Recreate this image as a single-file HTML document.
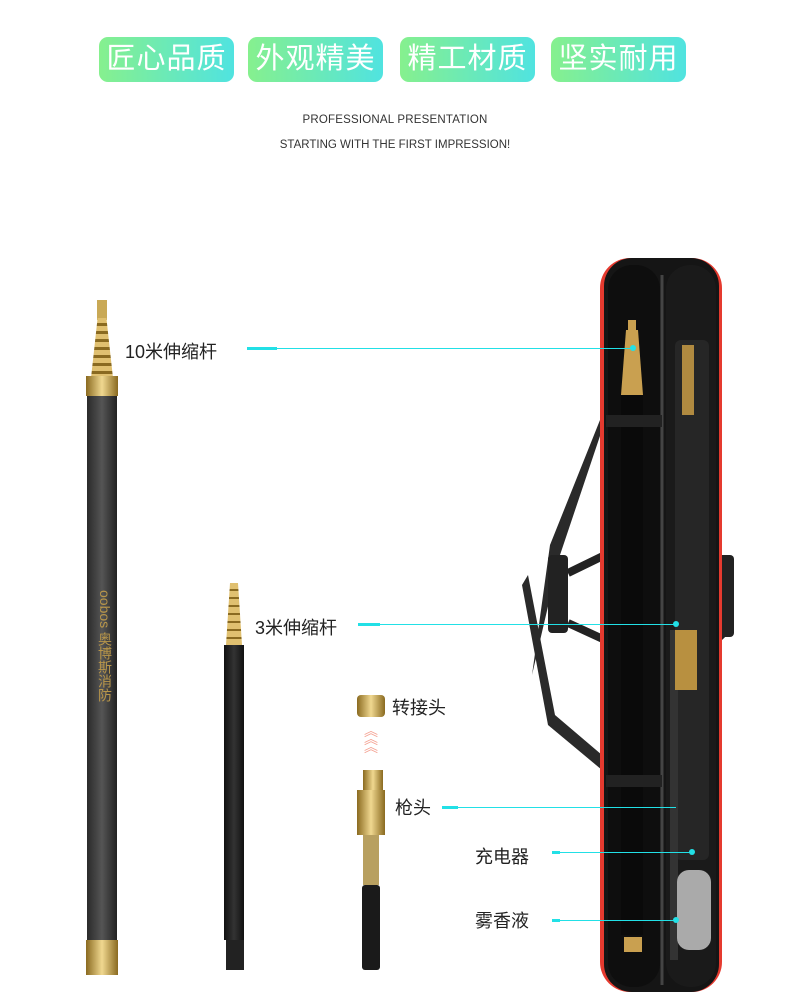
<!DOCTYPE html>
<html><head><meta charset="utf-8"><style>
body{margin:0;width:790px;height:1007px;background:#fff;position:relative;overflow:hidden;font-family:"Liberation Sans","Noto Sans CJK SC",sans-serif}
.b{position:absolute;top:37px;height:45px;width:135px;border-radius:9px;background:linear-gradient(90deg,#86f08e,#50e3e0);color:#fff;font-size:29px;line-height:45px;text-align:center;letter-spacing:1px}
.t{position:absolute;left:0;width:790px;text-align:center;font-size:11.5px;color:#333}
.a{position:absolute;}
.lb{position:absolute;font-size:18px;color:#222}
.ln{position:absolute;height:1px;background:#22e0e6}
.tk{position:absolute;height:3px;background:#22e0e6}
.dot{position:absolute;width:6px;height:6px;border-radius:3px;background:#22e0e6}
</style></head><body>
<div class="b" style="left:99px">匠心品质</div>
<div class="b" style="left:248px">外观精美</div>
<div class="b" style="left:400px">精工材质</div>
<div class="b" style="left:551px">坚实耐用</div>
<div class="t" style="top:114px;letter-spacing:0.2px">PROFESSIONAL PRESENTATION</div>
<div class="t" style="top:139px">STARTING WITH THE FIRST IMPRESSION!</div>

<!-- 10m pole -->
<div class="a" style="left:97px;top:300px;width:10px;height:20px;background:#c9a956"></div>
<div class="a" style="left:91px;top:318px;width:22px;height:60px;background:repeating-linear-gradient(#e0c070 0 5px,#8a6a20 5px 8px);clip-path:polygon(30% 0,70% 0,100% 100%,0 100%)"></div>
<div class="a" style="left:86px;top:376px;width:32px;height:20px;background:linear-gradient(90deg,#8a6a20,#f0d890,#8a6a20)"></div>
<div class="a" style="left:87px;top:396px;width:30px;height:545px;background:linear-gradient(90deg,#2a2a2a,#555,#222)"></div>
<div class="a" style="left:98px;top:590px;color:#b8964a;font-size:14px;writing-mode:vertical-rl;line-height:14px">oobos 奥博斯消防</div>
<div class="a" style="left:86px;top:940px;width:32px;height:35px;background:linear-gradient(90deg,#8a6a20,#f0d890,#8a6a20)"></div>

<!-- 3m pole -->
<div class="a" style="left:226px;top:583px;width:16px;height:62px;background:repeating-linear-gradient(#e0c070 0 6px,#8a6a20 6px 8px);clip-path:polygon(25% 0,75% 0,100% 100%,0 100%)"></div>
<div class="a" style="left:224px;top:645px;width:20px;height:295px;background:linear-gradient(90deg,#111,#333,#111)"></div>
<div class="a" style="left:226px;top:940px;width:18px;height:30px;background:#222"></div>

<!-- adapter + gun -->
<div class="a" style="left:357px;top:695px;width:28px;height:22px;border-radius:4px;background:linear-gradient(90deg,#8a6a20,#f0d890,#8a6a20)"></div>
<div class="a" style="left:364px;top:727px;color:#f4a090;font-size:14px;line-height:8px">︽<br>︽<br>︽</div>
<div class="a" style="left:363px;top:770px;width:20px;height:22px;background:linear-gradient(90deg,#8a6a20,#f0d890,#8a6a20)"></div>
<div class="a" style="left:357px;top:790px;width:28px;height:45px;background:linear-gradient(90deg,#8a6a20,#f0d890,#8a6a20)"></div>
<div class="a" style="left:363px;top:835px;width:16px;height:50px;background:#b8a060"></div>
<div class="a" style="left:362px;top:885px;width:18px;height:85px;border-radius:3px;background:#1a1a1a"></div>

<!-- case -->
<svg class="a" style="left:510px;top:255px" width="250" height="740">
<path d="M40 290 L92 160 L92 175 L50 300 L22 420 Z" fill="#2a2a2a"/>
<path d="M18 320 L45 460 L92 500 L92 515 L38 470 L12 330Z" fill="#2a2a2a"/>
<rect x="38" y="300" width="20" height="78" rx="4" fill="#222"/>
<rect x="200" y="300" width="24" height="82" rx="4" fill="#222"/>
<path d="M58 318 L95 300 M58 368 L95 385" stroke="#222" stroke-width="8"/>
<path d="M200 312 L212 300 M200 372 L212 385" stroke="#222" stroke-width="8"/>
<rect x="90" y="3" width="122" height="734" rx="30" fill="#e53a2f"/>
<rect x="94" y="3" width="115" height="734" rx="28" fill="#151515"/>
<line x1="152" y1="20" x2="152" y2="730" stroke="#444" stroke-width="3"/>
<rect x="98" y="10" width="52" height="722" rx="24" fill="#0e0e0e"/>
<rect x="156" y="10" width="50" height="722" rx="24" fill="#1a1a1a"/>
<rect x="165" y="85" width="34" height="520" rx="6" fill="#262626"/>
<rect x="118" y="65" width="8" height="12" fill="#c9a050"/>
<path d="M116 75 L128 75 L133 140 L111 140Z" fill="#c9a050"/>
<rect x="111" y="140" width="22" height="540" fill="#0a0a0a"/>
<rect x="114" y="682" width="18" height="15" fill="#c9a050"/>
<rect x="172" y="90" width="12" height="70" fill="#b08a40"/>
<rect x="160" y="375" width="8" height="330" fill="#333"/>
<rect x="165" y="375" width="22" height="60" fill="#b89040"/>
<rect x="167" y="615" width="34" height="80" rx="12" fill="#aaa"/>
<rect x="96" y="160" width="56" height="12" fill="#222"/>
<rect x="96" y="520" width="56" height="12" fill="#222"/>
</svg>

<!-- labels -->
<div class="lb" style="left:125px;top:338px">10米伸缩杆</div>
<div class="tk" style="left:247px;top:347px;width:30px"></div>
<div class="ln" style="left:277px;top:348px;width:356px"></div><div class="dot" style="left:630px;top:345px"></div>
<div class="lb" style="left:255px;top:614px">3米伸缩杆</div>
<div class="tk" style="left:358px;top:623px;width:22px"></div>
<div class="ln" style="left:380px;top:624px;width:296px"></div><div class="dot" style="left:673px;top:621px"></div>
<div class="lb" style="left:392px;top:694px">转接头</div>
<div class="lb" style="left:395px;top:794px">枪头</div>
<div class="tk" style="left:442px;top:806px;width:16px"></div>
<div class="ln" style="left:458px;top:807px;width:218px"></div>
<div class="lb" style="left:475px;top:843px">充电器</div>
<div class="tk" style="left:552px;top:851px;width:8px"></div>
<div class="ln" style="left:560px;top:852px;width:132px"></div><div class="dot" style="left:689px;top:849px"></div>
<div class="lb" style="left:475px;top:907px">雾香液</div>
<div class="tk" style="left:552px;top:919px;width:8px"></div>
<div class="ln" style="left:560px;top:920px;width:116px"></div><div class="dot" style="left:673px;top:917px"></div>
</body></html>
